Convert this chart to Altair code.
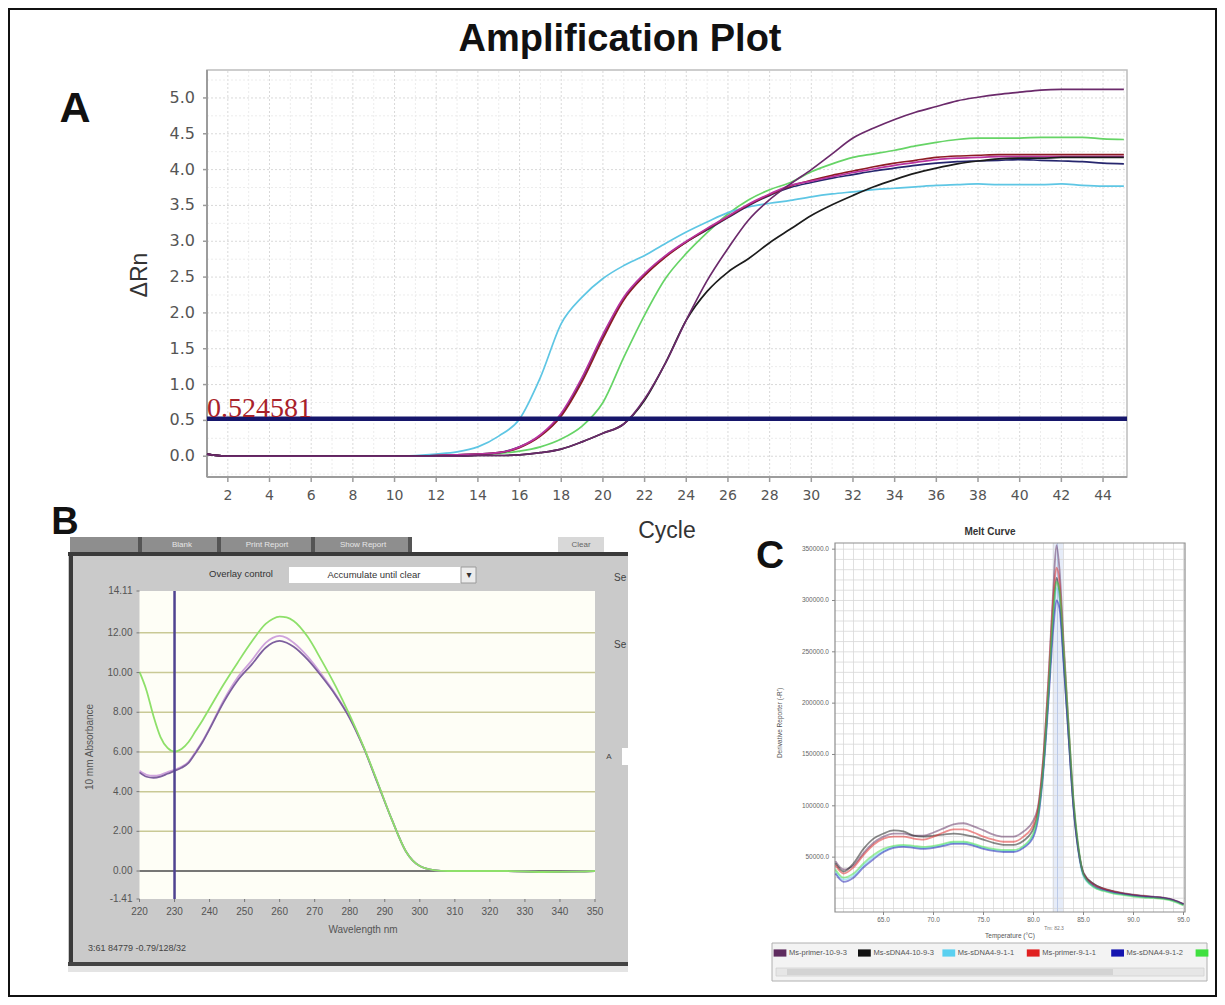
import altair as alt
import pandas as pd

# ======================= DATA =======================
# ---- Panel A : amplification plot (delta Rn per cycle) ----
CYCLES = list(range(1, 46))
A_NAMES = ["green", "cyan", "navy", "dark red", "magenta", "black", "purple"]
A_COLORS = ["#66d466", "#5ec6e4", "#26266e", "#8e1c24", "#b8339f", "#1c1c1c", "#6b2a6b"]
A_GREEN = [0.03, 0.0, 0.0, 0.0, 0.0, 0.0, 0.0, 0.0, 0.0, 0.0,
           0.0, 0.0, 0.01, 0.02, 0.04, 0.07, 0.13, 0.24, 0.42, 0.75,
           1.38, 1.97, 2.48, 2.83, 3.12, 3.38, 3.58, 3.72, 3.82, 3.97,
           4.08, 4.17, 4.22, 4.27, 4.33, 4.38, 4.42, 4.44, 4.44, 4.44,
           4.45, 4.45, 4.45, 4.43, 4.42]
A_CYAN = [0.03, 0.0, 0.0, 0.0, 0.0, 0.0, 0.0, 0.0, 0.0, 0.0,
          0.01, 0.03, 0.06, 0.13, 0.28, 0.52, 1.10, 1.85, 2.22, 2.48,
          2.66, 2.80, 2.97, 3.13, 3.27, 3.40, 3.48, 3.53, 3.57, 3.62,
          3.66, 3.69, 3.72, 3.74, 3.76, 3.78, 3.79, 3.80, 3.79, 3.79,
          3.79, 3.80, 3.78, 3.77, 3.77]
A_NAVY = [0.03, 0.0, 0.0, 0.0, 0.0, 0.0, 0.0, 0.0, 0.0, 0.0,
          0.0, 0.01, 0.02, 0.03, 0.05, 0.13, 0.29, 0.58, 1.08, 1.68,
          2.20, 2.53, 2.79, 2.99, 3.16, 3.33, 3.50, 3.64, 3.75, 3.82,
          3.88, 3.93, 3.98, 4.02, 4.06, 4.09, 4.11, 4.12, 4.13, 4.14,
          4.13, 4.12, 4.11, 4.09, 4.08]
A_RED = [0.03, 0.0, 0.0, 0.0, 0.0, 0.0, 0.0, 0.0, 0.0, 0.0,
         0.0, 0.01, 0.02, 0.03, 0.05, 0.12, 0.28, 0.56, 1.04, 1.64,
         2.18, 2.52, 2.78, 2.99, 3.17, 3.34, 3.51, 3.65, 3.77, 3.85,
         3.92, 3.98, 4.04, 4.09, 4.13, 4.17, 4.19, 4.20, 4.21, 4.21,
         4.21, 4.21, 4.21, 4.21, 4.21]
A_MAGENTA = [0.03, 0.0, 0.0, 0.0, 0.0, 0.0, 0.0, 0.0, 0.0, 0.0,
             0.0, 0.01, 0.02, 0.03, 0.05, 0.13, 0.30, 0.60, 1.10, 1.70,
             2.22, 2.55, 2.80, 3.00, 3.18, 3.35, 3.52, 3.66, 3.78, 3.84,
             3.90, 3.96, 4.01, 4.06, 4.10, 4.14, 4.16, 4.17, 4.18, 4.18,
             4.18, 4.18, 4.18, 4.18, 4.18]
A_BLACK = [0.03, 0.0, 0.0, 0.0, 0.0, 0.0, 0.0, 0.0, 0.0, 0.0,
           0.0, 0.0, 0.0, 0.01, 0.01, 0.02, 0.05, 0.10, 0.20, 0.32,
           0.45, 0.78, 1.30, 1.90, 2.30, 2.57, 2.76, 2.98, 3.17, 3.36,
           3.51, 3.64, 3.76, 3.86, 3.95, 4.02, 4.08, 4.12, 4.15, 4.16,
           4.16, 4.17, 4.17, 4.17, 4.17]
A_PURPLE = [0.03, 0.0, 0.0, 0.0, 0.0, 0.0, 0.0, 0.0, 0.0, 0.0,
            0.0, 0.0, 0.0, 0.01, 0.01, 0.02, 0.05, 0.10, 0.20, 0.32,
            0.45, 0.80, 1.30, 1.90, 2.45, 2.90, 3.30, 3.58, 3.80, 4.00,
            4.22, 4.44, 4.58, 4.70, 4.80, 4.88, 4.96, 5.01, 5.05, 5.08,
            5.11, 5.12, 5.12, 5.12, 5.12]
A_VALUES = [A_GREEN, A_CYAN, A_NAVY, A_RED, A_MAGENTA, A_BLACK, A_PURPLE]
THRESHOLD = [0.524581]
A_XTICKS = list(range(2, 46, 2))
A_XMINOR = list(range(1, 46, 2))
A_YTICKS = [0.0, 0.5, 1.0, 1.5, 2.0, 2.5, 3.0, 3.5, 4.0, 4.5, 5.0]
A_YMINOR = [-0.25, 0.25, 0.75, 1.25, 1.75, 2.25, 2.75, 3.25, 3.75, 4.25, 4.75, 5.25]
A_XDOM = [1, 45.15]
A_YDOM = [-0.29, 5.39]

# ---- Panel B : absorbance spectrum ----
B_WAVE = [220, 222, 224, 226, 228, 230, 232, 234, 236, 238, 240, 244, 248, 252, 256,
          258, 260, 262, 264, 268, 272, 276, 280, 284, 288, 292, 296, 300, 304, 308,
          315, 325, 335, 345, 350]
B_LAVENDER = [5.05, 4.85, 4.80, 4.85, 4.98, 5.10, 5.25, 5.50, 6.00, 6.55, 7.20, 8.60, 9.75, 10.60, 11.50,
              11.75, 11.85, 11.75, 11.50, 10.80, 9.90, 8.90, 7.75, 6.22, 4.42, 2.60, 1.00, 0.25, 0.05, 0.00,
              0.00, 0.00, -0.05, -0.03, 0.00]
B_PURPLE = [4.97, 4.75, 4.70, 4.76, 4.90, 5.05, 5.20, 5.45, 5.95, 6.50, 7.15, 8.50, 9.60, 10.40, 11.25,
            11.50, 11.60, 11.50, 11.30, 10.65, 9.80, 8.85, 7.70, 6.20, 4.40, 2.60, 1.00, 0.25, 0.05, 0.00,
            0.00, 0.00, -0.05, -0.03, 0.00]
B_GREEN = [10.03, 9.10, 7.80, 6.75, 6.20, 6.02, 6.15, 6.50, 7.05, 7.60, 8.20, 9.40, 10.50, 11.55, 12.45,
           12.70, 12.82, 12.78, 12.60, 11.80, 10.60, 9.30, 7.85, 6.24, 4.45, 2.60, 1.00, 0.25, 0.05, 0.00,
           0.00, 0.00, -0.05, -0.03, 0.00]
B_NAMES = ["lavender", "purple", "green"]
B_COLORS = ["#cfa3dc", "#7d5f9e", "#8ee06a"]
B_VALUES = [B_LAVENDER, B_PURPLE, B_GREEN]
B_MARKER = [230]
B_XTICKS = list(range(220, 351, 10))
B_YTICKS = [-1.41, 0.0, 2.0, 4.0, 6.0, 8.0, 10.0, 12.0, 14.11]
B_GRID = [2.0, 4.0, 6.0, 8.0, 10.0, 12.0]
B_ZERO = [0.0]
B_XDOM = [220, 350]
B_YDOM = [-1.41, 14.11]

# ---- Panel C : melt curve (derivative reporter) ----
C_TEMP = [60.2, 61, 62, 63, 64, 65, 66, 67, 68, 69, 70, 71, 72, 73, 74, 75, 76, 77, 78, 79, 80,
          80.5, 81, 81.5, 82, 82.3, 82.6, 83, 83.5, 84, 84.5, 85,
          86, 87, 88, 89, 90, 91, 92, 93, 94, 95]
C_SAMPLES = ["Ms-primer-10-9-3", "Ms-sDNA4-10-9-3", "Ms-sDNA4-9-1-1",
             "Ms-primer-9-1-1", "Ms-sDNA4-9-1-2", "Ms-sDNA4-10-9-4"]
C_COLORS = ["#5e2b5e", "#111111", "#5ad0f0", "#e02020", "#1515b0", "#40e040"]
C_PURPLE = [46000, 38000, 42000, 54000, 64000, 70000, 73000, 73000, 71000, 71000, 74000, 78000, 82000,
            83000, 80000, 76000, 72000, 70000, 70000, 75000, 86000,
            102000, 150000, 225000, 315000, 354000, 330000, 262000, 180000, 105000, 58000, 35000,
            24000, 19500, 17000, 15000, 13500, 12500, 11500, 10500, 8500, 4500]
C_BLACK = [44000, 36000, 44000, 58000, 68000, 73000, 76000, 75000, 71000, 70000, 71000, 72000, 73000,
           72000, 70000, 67000, 64000, 62000, 62000, 66000, 78000,
           96000, 140000, 210000, 290000, 322000, 306000, 245000, 170000, 100000, 56000, 34000,
           24000, 19000, 16500, 14500, 13000, 12000, 11000, 10000, 8000, 4000]
C_CYAN = [36000, 28000, 32000, 42000, 50000, 56000, 60000, 61000, 60000, 59000, 60000, 62000, 64000,
          64000, 62000, 59000, 57000, 56000, 56000, 60000, 72000,
          92000, 138000, 208000, 285000, 312000, 302000, 245000, 170000, 98000, 54000, 31000,
          21000, 17500, 15000, 13500, 12000, 11000, 10500, 9500, 7500, 3500]
C_RED = [42000, 34000, 40000, 52000, 62000, 68000, 70000, 70000, 68000, 67000, 70000, 74000, 77000,
         77000, 74000, 70000, 67000, 65000, 65000, 70000, 82000,
         100000, 148000, 222000, 305000, 332000, 318000, 255000, 176000, 102000, 57000, 34000,
         23000, 19000, 16500, 14500, 13000, 12000, 11000, 10000, 8000, 4000]
C_BLUE = [34000, 26000, 30000, 40000, 48000, 55000, 59000, 60000, 59000, 58000, 59000, 61000, 63000,
          63000, 61000, 58000, 56000, 55000, 55000, 59000, 70000,
          90000, 135000, 202000, 275000, 300000, 292000, 240000, 168000, 98000, 56000, 33000,
          22000, 18000, 15500, 14000, 12500, 11500, 11000, 10000, 8000, 4000]
C_GREEN = [38000, 30000, 34000, 44000, 52000, 58000, 61000, 62000, 61000, 60000, 61000, 63000, 65000,
           65000, 63000, 60000, 58000, 57000, 57000, 61000, 74000,
           94000, 140000, 212000, 292000, 318000, 310000, 255000, 180000, 106000, 60000, 33000,
           21000, 17000, 14500, 13000, 11500, 10500, 10000, 9000, 7000, 3000]
C_VALUES = [C_PURPLE, C_BLACK, C_CYAN, C_RED, C_BLUE, C_GREEN]
C_TM = [82.4]
C_BAND = [81.9, 83.0]
C_XTICKS = [65, 70, 75, 80, 85, 90, 95]
C_YTICKS = [50000, 100000, 150000, 200000, 250000, 300000, 350000]
C_GRID_X = list(range(61, 96))
C_GRID_Y = list(range(0, 360000, 10000))
C_XDOM = [60.15, 95.15]
C_YDOM = [-3440, 356000]

# ======================= LAYOUT (pixels, chart coordinates) =======================
W, H = 1209, 989
A_XR, A_YR = [199, 1119], [469, 62]
B_XR, B_YR = [131.5, 587], [891, 583]
C_XR, C_YR = [827, 1177], [904, 535]
L_XR, L_Y = [772, 1194], 945
SANS = "Liberation Sans"

ONE = pd.DataFrame({"k": [0]})


def box(x1, x2, y1, y2, **mk):
    return alt.Chart(ONE).mark_rect(**mk).encode(
        x=alt.value(x1), x2=alt.value(x2), y=alt.value(y1), y2=alt.value(y2))


def label(txt, x, y, **mk):
    return alt.Chart(pd.DataFrame({"t": [txt]})).mark_text(**mk).encode(
        x=alt.value(x), y=alt.value(y), text="t:N")


def vrules(vals, sx, sy, y0, y1, **mk):
    return alt.Chart(pd.DataFrame({"v": vals})).mark_rule(**mk).encode(
        x=alt.X("v:Q", scale=sx, axis=None),
        y=alt.YDatum(y0, scale=sy, axis=None), y2=alt.Y2Datum(y1))


def hrules(vals, sx, sy, x0, x1, **mk):
    return alt.Chart(pd.DataFrame({"v": vals})).mark_rule(**mk).encode(
        y=alt.Y("v:Q", scale=sy, axis=None),
        x=alt.XDatum(x0, scale=sx, axis=None), x2=alt.X2Datum(x1))


def drect(x0, x1, y0, y1, sx, sy, **mk):
    return alt.Chart(ONE).mark_rect(**mk).encode(
        x=alt.XDatum(x0, scale=sx, axis=None), x2=alt.X2Datum(x1),
        y=alt.YDatum(y0, scale=sy, axis=None), y2=alt.Y2Datum(y1))


def fmt_expr(fmt):
    return "replace(format(datum.v, '%s'), '\u2212', '-')" % fmt


def x_axis(vals, sx, sy, ybase, fmt, tick, pad, tick_color, tick_w, **txt):
    base = alt.Chart(pd.DataFrame({"v": vals}))
    ex = alt.X("v:Q", scale=sx, axis=None)
    ticks = base.mark_rule(color=tick_color, strokeWidth=tick_w, y2Offset=tick).encode(
        x=ex, y=alt.YDatum(ybase, scale=sy, axis=None), y2=alt.Y2Datum(ybase))
    labels = base.transform_calculate(lbl=fmt_expr(fmt)).mark_text(
        align="center", baseline="top", dy=tick + pad, **txt).encode(
        x=ex, y=alt.YDatum(ybase, scale=sy, axis=None), text="lbl:N")
    return [ticks, labels]


def y_axis(vals, sx, sy, xbase, fmt, tick, pad, tick_color, tick_w, **txt):
    base = alt.Chart(pd.DataFrame({"v": vals}))
    ey = alt.Y("v:Q", scale=sy, axis=None)
    ticks = base.mark_rule(color=tick_color, strokeWidth=tick_w, x2Offset=-tick).encode(
        y=ey, x=alt.XDatum(xbase, scale=sx, axis=None), x2=alt.X2Datum(xbase))
    labels = base.transform_calculate(lbl=fmt_expr(fmt)).mark_text(
        align="right", baseline="middle", dx=-(tick + pad), **txt).encode(
        y=ey, x=alt.XDatum(xbase, scale=sx, axis=None), text="lbl:N")
    return [ticks, labels]


# ======================= PANEL A =======================
xA = alt.Scale(domain=A_XDOM, range=A_XR, nice=False, zero=False)
yA = alt.Scale(domain=A_YDOM, range=A_YR, nice=False, zero=False)
dfA = pd.DataFrame([{"cycle": c, "value": v, "sample": n, "color": col}
                    for n, col, vals in zip(A_NAMES, A_COLORS, A_VALUES)
                    for c, v in zip(CYCLES, vals)])

a_grid = [
    vrules(A_XMINOR, xA, yA, A_YDOM[0], A_YDOM[1], color="#ececec", strokeDash=[2, 2], strokeWidth=1),
    vrules(A_XTICKS, xA, yA, A_YDOM[0], A_YDOM[1], color="#d9d9d9", strokeDash=[2, 2], strokeWidth=1),
    hrules(A_YMINOR, xA, yA, A_XDOM[0], A_XDOM[1], color="#ececec", strokeDash=[2, 2], strokeWidth=1),
    hrules(A_YTICKS, xA, yA, A_XDOM[0], A_XDOM[1], color="#d9d9d9", strokeDash=[2, 2], strokeWidth=1),
    drect(A_XDOM[0], A_XDOM[1], A_YDOM[0], A_YDOM[1], xA, yA,
          fillOpacity=0, stroke="#bdbdbd", strokeWidth=1.5),
    vrules([A_XDOM[0]], xA, yA, A_YDOM[0], A_YDOM[1], color="#9c9c9c", strokeWidth=2),
    hrules([A_YDOM[0]], xA, yA, A_XDOM[0], A_XDOM[1], color="#9c9c9c", strokeWidth=2),
]
a_axes = (x_axis(A_XTICKS, xA, yA, A_YDOM[0], "d", 5, 7, "#9c9c9c", 1.5,
                 font="DejaVu Sans", fontSize=14, color="#555555")
          + y_axis(A_YTICKS, xA, yA, A_XDOM[0], ".1f", 4, 8, "#9c9c9c", 1.5,
                   font="DejaVu Sans", fontSize=16, color="#555555"))
a_curves = alt.Chart(dfA).mark_line(strokeWidth=1.7, interpolate="monotone").encode(
    x=alt.X("cycle:Q", scale=xA, axis=None),
    y=alt.Y("value:Q", scale=yA, axis=None),
    color=alt.Color("color:N", scale=None),
    detail="sample:N")
dfT = pd.DataFrame({"thr": THRESHOLD})
a_thr = alt.Chart(dfT).mark_rule(color="#16166b", strokeWidth=4.5).encode(
    y=alt.Y("thr:Q", scale=yA, axis=None),
    x=alt.XDatum(A_XDOM[0], scale=xA, axis=None), x2=alt.X2Datum(A_XDOM[1]))
a_thr_txt = alt.Chart(dfT).mark_text(align="left", baseline="alphabetic", dy=-2,
                                     font="Liberation Serif", fontSize=28, color="#a8222a").encode(
    y=alt.Y("thr:Q", scale=yA, axis=None),
    x=alt.XDatum(A_XDOM[0], scale=xA, axis=None),
    text=alt.Text("thr:Q", format=".6f"))
a_texts = [
    label("Amplification Plot", 612, 43, font=SANS, fontSize=38, fontWeight="bold",
          color="#111111", align="center", baseline="alphabetic"),
    label("A", 67, 114, font=SANS, fontSize=43, fontWeight="bold", color="#111111",
          align="center", baseline="alphabetic"),
    label("Cycle", 659, 530, font=SANS, fontSize=23, color="#333333", align="center",
          baseline="alphabetic"),
    label("ΔRn", 132, 267, font=SANS, fontSize=23, color="#333333", align="center",
          baseline="middle", angle=270),
]

panelA = alt.layer(*a_grid, a_curves, a_thr, a_thr_txt, *a_axes, *a_texts)

# ======================= PANEL B =======================
xB = alt.Scale(domain=B_XDOM, range=B_XR, nice=False, zero=False)
yB = alt.Scale(domain=B_YDOM, range=B_YR, nice=False, zero=False)
dfB = pd.DataFrame([{"wl": w, "abs": v, "sample": n, "color": col}
                    for n, col, vals in zip(B_NAMES, B_COLORS, B_VALUES)
                    for w, v in zip(B_WAVE, vals)])

b_parts = [
    box(60, 620, 544, 960, color="#cacaca"),
    box(62, 404, 529, 545, color="#8e8e8e"),
    box(130, 134, 529, 545, color="#555555"),
    box(209, 213, 529, 545, color="#555555"),
    box(303, 307, 529, 545, color="#555555"),
    box(400, 404, 529, 545, color="#555555"),
    box(550, 596, 529, 544, color="#d8d8d8"),
    box(60, 620, 544, 548, color="#3a3a3a"),
    box(61, 65, 544, 958, color="#3a3a3a"),
    box(60, 620, 954, 958, color="#444444"),
    box(60, 620, 958, 964, color="#e4e4e4"),
    box(281, 453, 559, 575, color="#ffffff"),
    box(453, 468, 559, 575, fill="#ececec", stroke="#9a9a9a", strokeWidth=1),
    box(614, 620, 740, 757, color="#ffffff"),
    label("Blank", 174, 537, font=SANS, fontSize=8, color="#e6e6e6", baseline="middle"),
    label("Print Report", 259, 537, font=SANS, fontSize=8, color="#e6e6e6", baseline="middle"),
    label("Show Report", 355, 537, font=SANS, fontSize=8, color="#e6e6e6", baseline="middle"),
    label("Clear", 573, 537, font=SANS, fontSize=8, color="#666666", baseline="middle"),
    label("Overlay control", 233, 566, font=SANS, fontSize=9.5, color="#333333", baseline="middle"),
    label("Accumulate until clear", 366, 567, font=SANS, fontSize=9.5, color="#333333", baseline="middle"),
    label("▾", 461, 567, font="DejaVu Sans", fontSize=10, color="#333333", baseline="middle"),
    label("Se", 606, 570, font=SANS, fontSize=10, color="#444444", align="left", baseline="middle"),
    label("Se", 606, 637, font=SANS, fontSize=10, color="#444444", align="left", baseline="middle"),
    label("A", 601, 749, font=SANS, fontSize=8, color="#444444", baseline="middle"),
    label("3:61 84779 -0.79/128/32", 80, 940, font=SANS, fontSize=9, color="#444444",
          align="left", baseline="middle"),
]
b_plot = drect(B_XDOM[0], B_XDOM[1], B_YDOM[0], B_YDOM[1], xB, yB, color="#fefef6")
b_grid = hrules(B_GRID, xB, yB, B_XDOM[0], B_XDOM[1], color="#c9c995", strokeWidth=1.5)
b_zero = hrules(B_ZERO, xB, yB, B_XDOM[0], B_XDOM[1], color="#4a4a4a", strokeWidth=1.5)
b_curves = alt.Chart(dfB).mark_line(strokeWidth=1.8, interpolate="monotone").encode(
    x=alt.X("wl:Q", scale=xB, axis=None),
    y=alt.Y("abs:Q", scale=yB, axis=None),
    color=alt.Color("color:N", scale=None),
    detail="sample:N")
b_marker = vrules(B_MARKER, xB, yB, B_YDOM[0], B_YDOM[1], color="#4f4391", strokeWidth=2.5)
b_axes = (x_axis(B_XTICKS, xB, yB, B_YDOM[0], "d", 3, 5, "#777777", 1,
                 font=SANS, fontSize=10, color="#555555")
          + y_axis(B_YTICKS, xB, yB, B_XDOM[0], ".2f", 3, 4, "#777777", 1,
                   font=SANS, fontSize=10, color="#555555"))
b_texts = [
    label("Wavelength nm", 355, 922, font=SANS, fontSize=10, color="#555555", align="center",
          baseline="middle"),
    label("10 mm Absorbance", 82, 739, font=SANS, fontSize=10, color="#555555", align="center",
          baseline="middle", angle=270),
    label("B", 57, 526, font=SANS, fontSize=38, fontWeight="bold", color="#111111",
          align="center", baseline="alphabetic"),
]

panelB = alt.layer(*b_parts, b_plot, b_grid, b_zero, b_curves, b_marker, *b_axes, *b_texts)

# ======================= PANEL C =======================
xC = alt.Scale(domain=C_XDOM, range=C_XR, nice=False, zero=False)
yC = alt.Scale(domain=C_YDOM, range=C_YR, nice=False, zero=False)
cScale = alt.Scale(domain=C_SAMPLES, range=C_COLORS)
dfC = pd.DataFrame([{"temp": t, "deriv": v, "sample": n}
                    for n, vals in zip(C_SAMPLES, C_VALUES)
                    for t, v in zip(C_TEMP, vals)])

c_bg = [
    drect(C_BAND[0], C_BAND[1], C_YDOM[0], C_YDOM[1], xC, yC, color="#e6ecf8"),
    vrules(C_GRID_X, xC, yC, C_YDOM[0], C_YDOM[1], color="#d8d8d8", strokeWidth=0.8),
    hrules(C_GRID_Y, xC, yC, C_XDOM[0], C_XDOM[1], color="#d8d8d8", strokeWidth=0.8),
    vrules(C_TM, xC, yC, C_YDOM[0], C_YDOM[1], color="#bccae8", strokeWidth=1),
    drect(C_XDOM[0], C_XDOM[1], C_YDOM[0], C_YDOM[1], xC, yC,
          fillOpacity=0, stroke="#8e8e8e", strokeWidth=1.2),
]
c_curves = alt.Chart(dfC).mark_line(strokeWidth=1.8, opacity=0.5, interpolate="monotone").encode(
    x=alt.X("temp:Q", scale=xC, axis=None),
    y=alt.Y("deriv:Q", scale=yC, axis=None),
    color=alt.Color("sample:N", scale=cScale, legend=None))
c_axes = (x_axis(C_XTICKS, xC, yC, C_YDOM[0], ".1f", 3, 2, "#888888", 1,
                 font=SANS, fontSize=6.5, color="#666666")
          + y_axis(C_YTICKS, xC, yC, C_XDOM[0], ".1f", 3, 3, "#888888", 1,
                   font=SANS, fontSize=6.5, color="#666666"))
c_texts = [
    label("Melt Curve", 982, 524, font=SANS, fontSize=10, fontWeight="bold", color="#333333",
          align="center", baseline="middle"),
    label("Tm: 82.3", 1046, 920, font=SANS, fontSize=5, color="#777777",
          align="center", baseline="middle"),
    label("Temperature (°C)", 1002, 928, font=SANS, fontSize=6.5, color="#555555",
          align="center", baseline="middle"),
    label("Derivative Reporter (-R')", 772, 715, font=SANS, fontSize=6.5, color="#555555",
          align="center", baseline="middle", angle=270),
    label("C", 762, 560, font=SANS, fontSize=39, fontWeight="bold", color="#111111",
          align="center", baseline="alphabetic"),
]

panelC = alt.layer(*c_bg, c_curves, *c_axes, *c_texts)

# ======================= LEGEND of panel C =======================
xL = alt.Scale(type="point", domain=C_SAMPLES, range=L_XR, padding=0)
dfL = pd.DataFrame({"sample": C_SAMPLES})
l_box = [
    box(764, 1199, 935, 973, fill="#f3f3f3", stroke="#b0b0b0", strokeWidth=1),
    box(768, 1196, 960, 968, fill="#e6e6e6", stroke="#d0d0d0", strokeWidth=0.8),
    box(779, 1105, 961, 967, color="#d3d3d3"),
]
l_swatch = alt.Chart(dfL).mark_point(shape="M-1.6,-0.9H1.6V0.9H-1.6Z", size=64, filled=True,
                                     opacity=1).encode(
    x=alt.X("sample:N", scale=xL, axis=None),
    y=alt.value(L_Y),
    color=alt.Color("sample:N", scale=cScale, legend=None))
l_text = alt.Chart(dfL).mark_text(align="left", baseline="middle", dx=9, font=SANS, fontSize=7.5,
                                  color="#555555").encode(
    x=alt.X("sample:N", scale=xL, axis=None),
    y=alt.value(L_Y),
    text="sample:N"
).transform_filter(alt.FieldOneOfPredicate(field="sample", oneOf=C_SAMPLES[:5]))

panelL = alt.layer(*l_box, l_swatch, l_text)

# ======================= FIGURE =======================
chart = alt.layer(panelA, panelB, panelC, panelL).resolve_scale(
    x="independent", y="independent", color="independent"
).properties(
    width=W, height=H, padding=0, autosize=alt.AutoSizeParams(type="none")
).configure_view(stroke="#111111", strokeWidth=4)

chart.save("out.html", embed_options={"renderer": "svg", "actions": False})
